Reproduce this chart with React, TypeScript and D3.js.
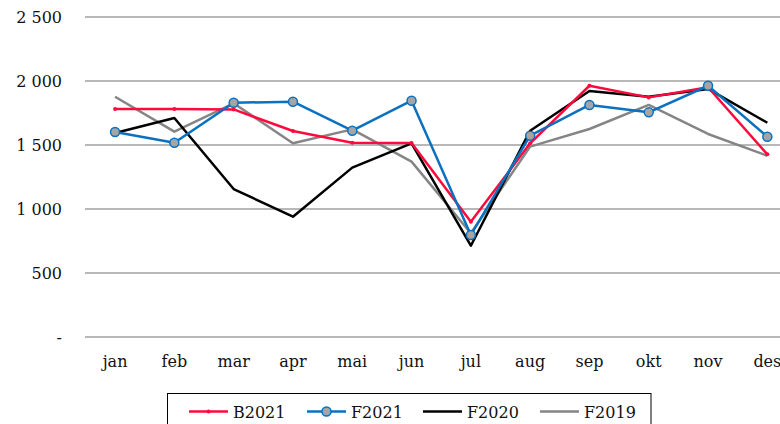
import React from "react";
import * as d3 from "d3";

const months = ["jan", "feb", "mar", "apr", "mai", "jun", "jul", "aug", "sep", "okt", "nov", "des"];
const B2021 = [1781, 1781, 1778, 1609, 1518, 1516, 900, 1513, 1963, 1872, 1951, 1427];
const F2021 = [1602, 1518, 1830, 1838, 1612, 1846, 797, 1573, 1813, 1755, 1963, 1565];
const F2020 = [1594, 1711, 1156, 940, 1323, 1513, 713, 1612, 1922, 1877, 1938, 1674];
const F2019 = [1877, 1604, 1826, 1513, 1622, 1370, 810, 1487, 1625, 1813, 1586, 1416];
const yTicks = [0, 500, 1000, 1500, 2000, 2500];
const yTickLabels = ["-", "500", "1 000", "1 500", "2 000", "2 500"];

const FONT = "'DejaVu Serif', 'Liberation Serif', serif";

export default function App() {
  const W = 780, H = 424;
  const x = d3.scaleBand<string>().domain(months).range([85.4, 797]);
  const y = d3.scaleLinear().domain([0, 2500]).range([337, 17]);
  const cx = (i: number) => (x(months[i]) as number) + x.bandwidth() / 2;
  const line = d3.line<number>().x((_, i) => cx(i)).y((d) => y(d));

  const series = [
    { name: "B2021", data: B2021, color: "#ff0a3c", marker: "dot" },
    { name: "F2021", data: F2021, color: "#0a70c0", marker: "circle" },
    { name: "F2020", data: F2020, color: "#000000", marker: "none" },
    { name: "F2019", data: F2019, color: "#858585", marker: "none" },
  ];
  const drawOrder = [series[3], series[2], series[0], series[1]];

  const legendX = [189, 307, 423, 540];

  return (
    <svg width={W} height={H} style={{ position: "absolute", left: 0, top: 0, background: "#fff" }}>
      <rect width={W} height={H} fill="#fff" />
      {yTicks.map((t, i) => (
        <g key={t}>
          <line x1={85} x2={W} y1={y(t)} y2={y(t)} stroke="#a0a0a0" strokeWidth={1.5} />
          <text x={62} y={y(t) + 5.5} textAnchor="end" fontFamily={FONT} fontSize={16} fill="#111">
            {yTickLabels[i]}
          </text>
        </g>
      ))}
      {months.map((m, i) => (
        <text key={m} x={cx(i)} y={367} textAnchor="middle" fontFamily={FONT} fontSize={16} fill="#111">
          {m}
        </text>
      ))}
      {drawOrder.map((s) => (
        <g key={s.name}>
          <path d={line(s.data) as string} fill="none" stroke={s.color} strokeWidth={2.5} strokeLinejoin="round" />
          {s.marker === "dot" &&
            s.data.map((v, i) => <circle key={i} cx={cx(i)} cy={y(v)} r={2} fill={s.color} />)}
          {s.marker === "circle" &&
            s.data.map((v, i) => (
              <circle key={i} cx={cx(i)} cy={y(v)} r={4.5} fill="#a5a5a5" stroke={s.color} strokeWidth={1.5} />
            ))}
        </g>
      ))}
      <rect x={167.5} y={393.5} width={483.5} height={40} fill="#fff" stroke="#000" strokeWidth={1} />
      {series.map((s, i) => (
        <g key={s.name}>
          <line x1={legendX[i]} x2={legendX[i] + 39} y1={411.5} y2={411.5} stroke={s.color} strokeWidth={2.5} />
          {s.marker === "dot" && <circle cx={legendX[i] + 19.5} cy={411.5} r={2} fill={s.color} />}
          {s.marker === "circle" && (
            <circle cx={legendX[i] + 19.5} cy={411.5} r={4.5} fill="#a5a5a5" stroke={s.color} strokeWidth={1.5} />
          )}
          <text x={legendX[i] + 44} y={417.5} fontFamily={FONT} fontSize={16} fill="#111">
            {s.name}
          </text>
        </g>
      ))}
    </svg>
  );
}
